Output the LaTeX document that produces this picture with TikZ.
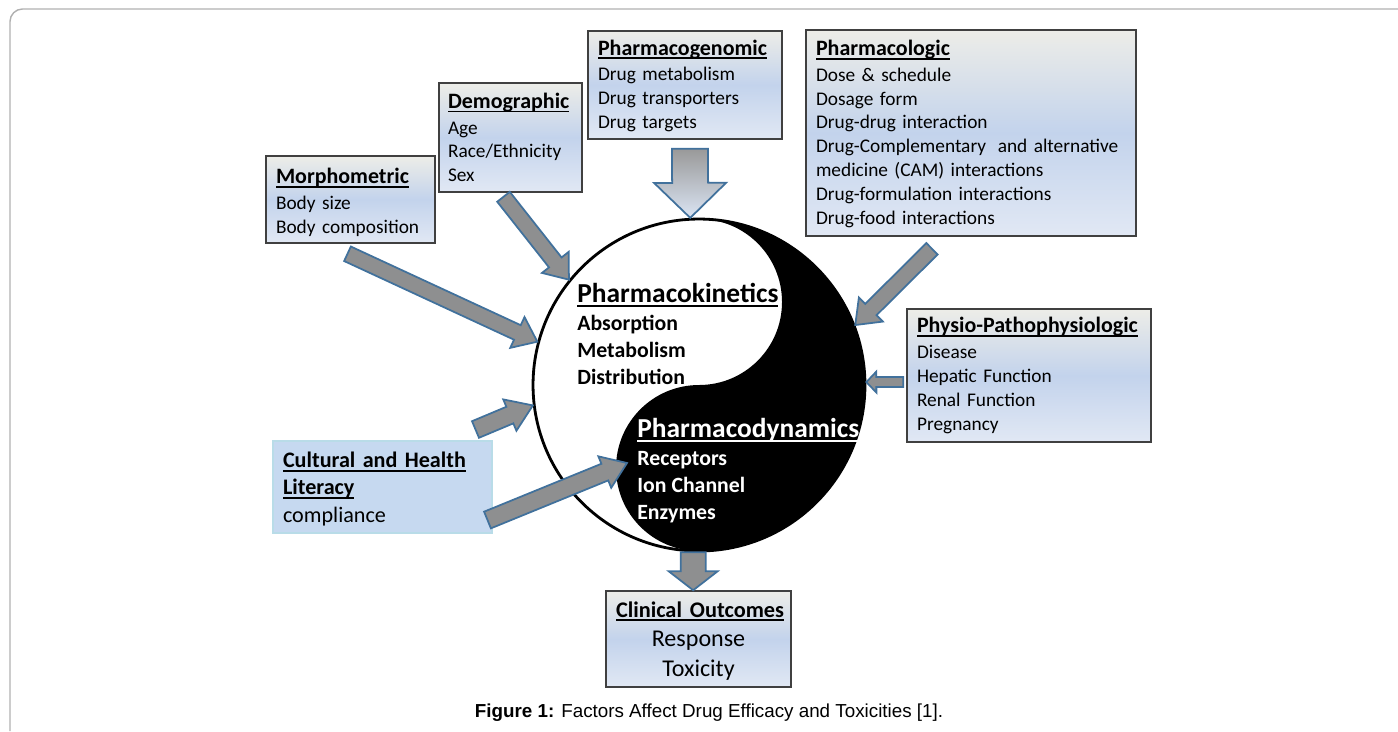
\documentclass[tikz,border=0pt]{standalone}
\usepackage{fontspec}
\setmainfont{Carlito}
\newfontfamily\capfont{Liberation Sans}
\usetikzlibrary{calc, positioning}

\definecolor{boxtop}{HTML}{EDEDE8}
\definecolor{boxmid}{HTML}{C3D3EC}
\definecolor{boxbot}{HTML}{E1E8F4}
\definecolor{cultfill}{HTML}{C6D9F0}
\definecolor{cultedge}{HTML}{B9DCE8}
\definecolor{arrowgray}{HTML}{8E8F90}
\definecolor{arrowedge}{HTML}{41719C}
\definecolor{framegray}{HTML}{B0B0B0}

% thick word-style underline
\newcommand{\thickul}[1]{\leavevmode\setbox0\hbox{#1}\rlap{\rule[-2.3pt]{\wd0}{1.1pt}}\box0}
% underlined heading of a factor box
\newcommand{\hd}[2][12.5]{{\fontsize{#1}{15}\selectfont\bfseries\thickul{#2}}}
% taller first line, pushes a box text down
\newcommand{\lift}[1]{\rule{0pt}{#1}}

% block arrow: [style] tail, tip, half shaft, half head, head length
\newcommand{\blockarrow}[6][fatarrow]{%
  \coordinate (hb) at ($(#3)!#6!(#2)$);
  \draw[#1] ($(#2)!#4!90:(#3)$) -- ($(hb)!#4!-90:(#2)$) -- ($(hb)!#5!-90:(#2)$) -- (#3)
    -- ($(hb)!#5!90:(#2)$) -- ($(hb)!#4!90:(#2)$) -- ($(#2)!#4!-90:(#3)$) -- cycle;
}

\begin{document}
\begin{tikzpicture}[
        x=0.02cm, y=-0.02cm,
        factor/.style={draw=black!75, line width=0.9pt, top color=boxtop, bottom color=boxbot,
            middle color=boxmid, align=left, inner xsep=0.2cm, inner ysep=0pt,
            font=\fontsize{11}{13.6}\selectfont},
        fatarrow/.style={draw=arrowedge, fill=arrowgray, line width=1pt, line join=miter},
        lightarrow/.style={draw=arrowedge, top color=black!40, bottom color=boxmid!60!white,
            line width=1pt, line join=miter},
        kin/.style={anchor=north west, align=left, inner sep=0pt, font=\fontsize{12.4}{15.4}\selectfont\bfseries}
    ]
        \useasboundingbox (0,0) rectangle (1398,731);
        \draw[framegray, line width=0.8pt, rounded corners=0.25cm] (10,731) |- (1398,9);

        % --- yin-yang ---
        \node[circle, draw, line width=1.6pt, minimum size=6.64cm, inner sep=0pt] (yy) at (699,385) {};
        \begin{scope}[shift={(yy.center)}, x=0.02cm, y=0.02cm]
            \fill (0,166) arc[start angle=90, end angle=-90, radius=166]
                arc[start angle=-90, end angle=-270, radius=83]
                arc[start angle=-90, end angle=90, radius=83] -- cycle;
        \end{scope}
        \node[kin] (kinetics) at (577,283) {{\fontsize{15.6}{16}\selectfont\thickul{Pharmacokinetics}}\\[0.6pt]
            Absorption\\ Metabolism\\ Distribution};
        \node[kin, text=white] (dynamics) at (637,418) {{\fontsize{15.6}{16}\selectfont\thickul{Pharmacodynamics}}\\[0.6pt]
            Receptors\\ Ion Channel\\ Enzymes};

        % --- factor boxes ---
        \node[factor, text width=2.98cm, minimum height=1.74cm] (morph) at (350.5,199.5)
            {\lift{12.2pt}\hd{Morphometric}\\[1pt] Body size\\ Body composition};
        \node[factor, text width=2.5cm, inner xsep=0.18cm, minimum height=2.18cm] (demo) at (510.5,137.5)
            {\hd{Demographic}\\[1pt] Age\\ Race/Ethnicity\\ Sex};
        \node[factor, text width=3.48cm, minimum height=2.16cm] (genomic) at (685,85)
            {\lift{9.9pt}\hd{Pharmacogenomic}\\[1pt] Drug metabolism\\ Drug transporters\\ Drug targets};
        \node[factor, text width=6.2cm, minimum height=4.12cm] (pharma) at (971,133)
            {\lift{9.9pt}\hd{Pharmacologic}\\[1pt] Dose \& schedule\\ Dosage form\\ Drug-drug interaction\\
             Drug-Complementary\hspace{3pt} and alternative\\ medicine (CAM) interactions\\
             Drug-formulation interactions\\ Drug-food interactions};
        \node[factor, text width=4.48cm, minimum height=2.66cm] (physio) at (1029,375.5)
            {\hd{Physio-Pathophysiologic}\\[1pt] Disease\\ Hepatic Function\\ Renal Function\\ Pregnancy};
        \node[draw=cultedge, fill=cultfill, line width=0.6pt, align=left, text width=3.98cm,
            inner xsep=0.2cm, minimum height=1.84cm, font=\fontsize{12.6}{15.6}\selectfont] (cult) at (382.5,487)
            {\lift{11.1pt}\hd[12.6]{Cultural and Health}\\ \hd[12.6]{Literacy}\\ compliance};
        \node[factor, align=center, text width=3.3cm, minimum height=1.92cm,
            font=\fontsize{13.7}{17}\selectfont] (clin) at (698.5,639)
            {\lift{11.2pt}\hd[12.7]{Clinical Outcomes}\\ Response\\ Toxicity};

        % --- arrow ends ---
        \coordinate (morph-out) at ($(morph.south)+(-3,10)$);
        \coordinate (demo-out) at ($(demo.south)+(-7,4)$);
        \coordinate (gen-out) at ($(genomic.south)+(5,9)$);
        \coordinate (pharma-out) at ($(pharma.south)+(-39,12)$);
        \coordinate (physio-out) at ($(physio.west)+(-3,6.5)$);
        \coordinate (cult-out1) at ($(cult.north east)+(-17,-11)$);
        \coordinate (cult-out2) at ($(cult.east)+(-5,33)$);
        \coordinate (pd-in) at (627,463);

        % --- block arrows ---
        \blockarrow{morph-out}{yy.165}{0.16cm}{0.34cm}{0.44cm}
        \blockarrow{demo-out}{yy.141}{0.16cm}{0.34cm}{0.44cm}
        \blockarrow[lightarrow]{gen-out}{yy.93}{0.36cm}{0.72cm}{0.7cm}
        \blockarrow{pharma-out}{yy.21}{0.16cm}{0.34cm}{0.44cm}
        \blockarrow{physio-out}{yy.1}{0.1cm}{0.21cm}{0.2cm}
        \blockarrow{cult-out1}{yy.187}{0.18cm}{0.34cm}{0.5cm}
        \blockarrow{cult-out2}{pd-in}{0.18cm}{0.34cm}{0.48cm}
        \blockarrow{yy.268}{yy.268 |- clin.north}{0.25cm}{0.49cm}{0.38cm}

        \node[font=\capfont\fontsize{10.7}{13}\selectfont] (caption) at (709,713)
            {\textbf{Figure 1:} Factors Affect Drug Efficacy and Toxicities [1].};
\end{tikzpicture}
\end{document}
